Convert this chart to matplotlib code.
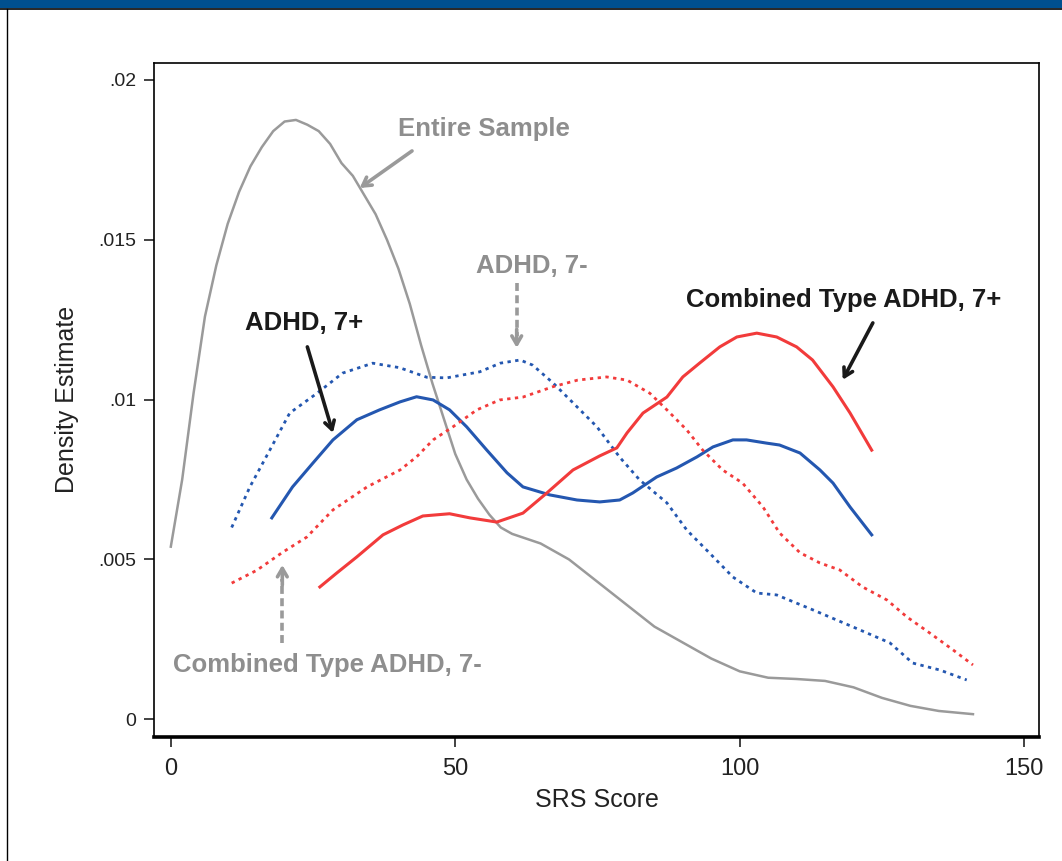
import numpy as np
import matplotlib
matplotlib.use('Agg')
import matplotlib.pyplot as plt
from matplotlib.patches import Rectangle
from matplotlib.lines import Line2D

plt.rcParams['font.family'] = ['Liberation Sans', 'DejaVu Sans']

# Entire sample (grey solid)
entire_x = [0, 2, 4, 6, 8, 10, 12, 14, 16, 18, 20, 22, 24, 26, 28, 30, 32, 34,
            36, 38, 40, 42, 44, 46, 48, 50, 52, 54, 56, 58, 60, 65, 70, 75, 80,
            85, 90, 95, 100, 105, 110, 115, 120, 125, 130, 135, 141]
entire_y = [0.0054, 0.0075, 0.0102, 0.0126, 0.0142, 0.0155, 0.0165, 0.0173,
            0.0179, 0.0184, 0.0187, 0.01875, 0.0186, 0.0184, 0.0180, 0.0174,
            0.0170, 0.0164, 0.0158, 0.0150, 0.0141, 0.0130, 0.0117, 0.0105,
            0.0094, 0.0083, 0.0075, 0.0069, 0.0064, 0.0060, 0.0058, 0.0055,
            0.0050, 0.0043, 0.0036, 0.0029, 0.0024, 0.0019, 0.0015, 0.0013,
            0.00126, 0.0012, 0.0010, 0.00067, 0.00042, 0.00026, 0.00016]

# ADHD, 7- (blue dotted)
adhd_lo_x = [10.7, 13.9, 17.4, 20.9, 25.7, 30.2, 35.5, 40.2, 45.0, 48.5, 54.3,
             57.9, 61.4, 63.6, 67.2, 70.7, 74.9, 78.9, 82.4, 87.2, 90.7, 94.7,
             98.8, 103.0, 106.5, 112.9, 119.9, 126.4, 130.4, 135.2, 139.9]
adhd_lo_y = [0.0060, 0.00727, 0.00842, 0.00958, 0.0102, 0.01083, 0.01114,
             0.0110, 0.0107, 0.01068, 0.01087, 0.01114, 0.01124, 0.01108,
             0.01052, 0.0099, 0.00915, 0.0082, 0.00749, 0.00677, 0.00592,
             0.0052, 0.00445, 0.00395, 0.00389, 0.00342, 0.00289, 0.00239,
             0.00176, 0.00154, 0.00123]

# ADHD, 7+ (blue solid)
adhd_hi_x = [17.75, 21.4, 25.0, 28.5, 32.7, 36.7, 40.3, 43.2, 46.1, 49.0, 52.0,
             55.5, 59.1, 61.9, 66.6, 71.4, 75.4, 78.9, 81.2, 85.4, 88.9, 92.5,
             95.3, 98.8, 101.2, 104.7, 107.0, 110.6, 114.1, 116.4, 119.4, 123.2]
adhd_hi_y = [0.0063, 0.00727, 0.00802, 0.00874, 0.00937, 0.00968, 0.00993,
             0.01009, 0.00999, 0.00968, 0.00915, 0.00843, 0.00771, 0.00727,
             0.00702, 0.00686, 0.0068, 0.00686, 0.00708, 0.00758, 0.00786,
             0.00821, 0.00852, 0.00874, 0.00874, 0.00864, 0.00858, 0.00833,
             0.0078, 0.00739, 0.00664, 0.00577]

# Combined type ADHD, 7- (red dotted)
comb_lo_x = [10.7, 15.1, 19.7, 23.9, 28.5, 34.5, 40.3, 43.2, 46.1, 49.6, 53.8,
             57.8, 61.9, 67.1, 71.5, 76.6, 80.2, 84.2, 87.2, 90.7, 93.5, 97.0,
             100.5, 104.1, 107.0, 110.6, 114.1, 117.6, 121.6, 125.9, 129.4,
             133.4, 137.5, 141.0]
comb_lo_y = [0.00426, 0.00466, 0.00523, 0.0057, 0.00655, 0.00727, 0.0078,
             0.00821, 0.00874, 0.00915, 0.00968, 0.00999, 0.01008, 0.0104,
             0.01061, 0.01071, 0.01061, 0.0102, 0.00968, 0.00905, 0.00842,
             0.0078, 0.00739, 0.00664, 0.00583, 0.00521, 0.00489, 0.00467,
             0.00414, 0.00373, 0.0032, 0.0027, 0.00217, 0.0017]

# Combined type ADHD, 7+ (red solid)
comb_hi_x = [26.2, 29.2, 32.7, 37.3, 40.8, 44.3, 49.0, 52.6, 57.3, 61.9, 66.1,
             70.7, 75.4, 78.4, 80.2, 83.0, 87.2, 90.0, 93.0, 96.5, 99.5, 103.0,
             106.5, 110.0, 112.8, 116.4, 119.4, 123.2]
comb_hi_y = [0.00414, 0.00458, 0.00508, 0.00577, 0.00608, 0.00636, 0.00643,
             0.0063, 0.00617, 0.00645, 0.00708, 0.0078, 0.00824, 0.00849,
             0.00896, 0.00958, 0.01008, 0.01071, 0.01115, 0.01165, 0.01196,
             0.01208, 0.01196, 0.01165, 0.01124, 0.0104, 0.00958, 0.00842]

xticks = [0, 50, 100, 150]
yticks = [0, 0.005, 0.01, 0.015, 0.02]
yticklabels = ['0', '.005', '.01', '.015', '.02']

grey = '#9a9a9a'
tgrey = '#8e8e8e'
blue = '#2457b0'
red = '#f23b3b'
black = '#1a1a1a'

fig = plt.figure(figsize=(10.62, 8.61), dpi=100)
fig.patches.append(Rectangle((0, 1 - 8 / 861), 1, 8 / 861, transform=fig.transFigure,
                             facecolor='#00508f', edgecolor='none'))
fig.lines.append(Line2D([0, 1], [1 - 8.5 / 861] * 2, transform=fig.transFigure,
                        color='black', lw=1.2))
fig.lines.append(Line2D([7.3 / 1062] * 2, [0, 1 - 8.5 / 861], transform=fig.transFigure,
                        color='black', lw=1.0))

ax = fig.add_axes([0.1453, 0.1444, 0.833, 0.7828])

ax.plot(entire_x, entire_y, color=grey, lw=1.8)
ax.plot(adhd_lo_x, adhd_lo_y, color=blue, lw=2.0, ls=(0, (1.2, 1.6)))
ax.plot(adhd_hi_x, adhd_hi_y, color=blue, lw=2.2)
ax.plot(comb_lo_x, comb_lo_y, color=red, lw=2.0, ls=(0, (1.2, 1.6)))
ax.plot(comb_hi_x, comb_hi_y, color=red, lw=2.2)

ax.set_xlim(-2.9, 152.6)
ax.set_ylim(-0.000544, 0.020541)
ax.set_xticks(xticks)
ax.set_xticklabels([str(t) for t in xticks])
ax.set_yticks(yticks)
ax.set_yticklabels(yticklabels)
ax.tick_params(axis='x', length=7, width=1.2, pad=8, labelsize=17, colors='#222222')
ax.tick_params(axis='y', length=7, width=1.2, pad=6, labelsize=14, colors='#222222')
for s in ['left', 'top', 'right']:
    ax.spines[s].set_linewidth(1.2)
ax.spines['bottom'].set_linewidth(2.6)

ax.set_xlabel('SRS Score', fontsize=18, color='#222222', labelpad=6)
ax.set_ylabel('Density Estimate', fontsize=18, color='#222222', labelpad=14)

# annotations
bold = dict(fontsize=18.5, fontweight='bold', ha='center', va='center')
ax.text(55.0, 0.01848, 'Entire Sample', color=tgrey, **bold)
ax.annotate('', xy=(33.2, 0.01662), xytext=(42.4, 0.01778),
            arrowprops=dict(arrowstyle='->,head_length=0.6,head_width=0.35',
                            color=grey, lw=2.6, shrinkA=0, shrinkB=0))

ax.text(63.5, 0.01418, 'ADHD, 7-', color=tgrey, **bold)
ax.plot([60.8, 60.8], [0.01365, 0.0120], color=grey, lw=2.6, ls=(0, (2.2, 1.2)))
ax.annotate('', xy=(60.8, 0.01162), xytext=(60.8, 0.0122),
            arrowprops=dict(arrowstyle='->,head_length=0.6,head_width=0.35',
                            color=grey, lw=2.6, shrinkA=0, shrinkB=0))

ax.text(23.4, 0.0124, 'ADHD, 7+', color=black, **bold)
ax.annotate('', xy=(28.5, 0.00896), xytext=(24.0, 0.01165),
            arrowprops=dict(arrowstyle='->,head_length=0.6,head_width=0.35',
                            color=black, lw=2.6, shrinkA=0, shrinkB=0))

ax.text(118.2, 0.01312, 'Combined Type ADHD, 7+', color=black, **bold)
ax.annotate('', xy=(118.1, 0.01062), xytext=(123.4, 0.0124),
            arrowprops=dict(arrowstyle='->,head_length=0.6,head_width=0.35',
                            color=black, lw=2.6, shrinkA=0, shrinkB=0))

ax.text(27.5, 0.0017, 'Combined Type ADHD, 7-', color=tgrey, **bold)
ax.plot([19.6, 19.6], [0.00239, 0.0044], color=grey, lw=2.6, ls=(0, (2.2, 1.2)))
ax.annotate('', xy=(19.6, 0.00483), xytext=(19.6, 0.0042),
            arrowprops=dict(arrowstyle='->,head_length=0.6,head_width=0.35',
                            color=grey, lw=2.6, shrinkA=0, shrinkB=0))

fig.savefig('out.png', dpi=100)
